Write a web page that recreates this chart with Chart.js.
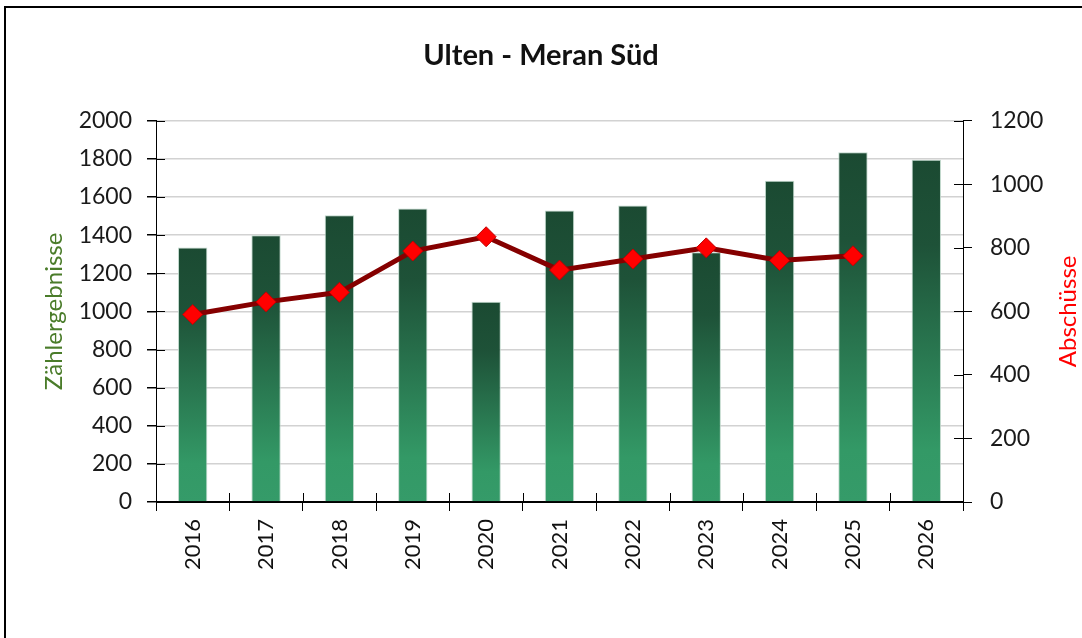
<!DOCTYPE html>
<html>
<head>
<meta charset="utf-8">
<script src="https://cdn.jsdelivr.net/npm/chart.js@4.4.1/dist/chart.umd.min.js"></script>
<style>
    html, body { margin: 0; padding: 0; background: #fff; }
    #wrap { position: relative; width: 1082px; height: 638px; overflow: hidden; }
    #frame { position: absolute; left: 4px; top: 6px; width: 1100px; height: 700px; border-top: 2px solid #000; border-left: 2px solid #000; }
    canvas { position: absolute; left: 0; top: 0; }
</style>
</head>
<body>
<div id="wrap">
    <div id="frame"></div>
    <canvas id="myChart" width="1082" height="638"></canvas>
</div>
<script>
const labels = ["2016", "2017", "2018", "2019", "2020", "2021", "2022", "2023", "2024", "2025", "2026"];
const zaehlergebnisse = [1335, 1400, 1505, 1540, 1050, 1530, 1555, 1310, 1685, 1835, 1795];
const abschuesse = [590, 630, 660, 790, 835, 730, 765, 800, 760, 775, null];

Chart.defaults.font.family = "Lato";
Chart.defaults.color = "#1a1a1a";

// each bar gets its own gradient, dark at the top, lighter green at the base
function barGradient(context) {
    const chart = context.chart;
    if (!chart.chartArea || context.raw == null) return "#2a7a52";
    const y = chart.scales.y;
    const top = y.getPixelForValue(context.raw);
    const base = y.getPixelForValue(0);
    const g = chart.ctx.createLinearGradient(0, top, 0, base);
    g.addColorStop(0, "#1b4a32");
    g.addColorStop(0.25, "#1e5238");
    g.addColorStop(0.85, "#339966");
    g.addColorStop(1, "#359b69");
    return g;
}

// ticks that cross the axes + right axis title (reads bottom to top)
const extras = {
    id: "extras",
    afterDraw(chart) {
        const ctx = chart.ctx;
        const { x, y, y1 } = chart.scales;
        ctx.save();
        ctx.strokeStyle = "#000";
        ctx.lineWidth = 1;
        ctx.beginPath();
        y.ticks.forEach(t => {
            const p = Math.round(y.getPixelForValue(t.value)) + 0.5;
            ctx.moveTo(y.right, p);
            ctx.lineTo(y.right + 9, p);
        });
        y1.ticks.forEach(t => {
            const p = Math.round(y1.getPixelForValue(t.value)) + 0.5;
            ctx.moveTo(y1.left - 9, p);
            ctx.lineTo(y1.left, p);
        });
        for (let i = 0; i <= labels.length; i++) {
            const p = Math.round(x.getPixelForValue(i - 0.5)) + 0.5;
            ctx.moveTo(p, x.top - 9);
            ctx.lineTo(p, x.top);
        }
        ctx.stroke();

        const area = chart.chartArea;
        ctx.translate(y1.right - 14, (area.top + area.bottom) / 2);
        ctx.rotate(-Math.PI / 2);
        ctx.textAlign = "center";
        ctx.textBaseline = "middle";
        ctx.fillStyle = "#ff0000";
        ctx.font = "24px Lato";
        ctx.fillText("Abschüsse", 0, 0);
        ctx.restore();
    }
};

const plain = v => String(v);

const data = {
    labels: labels,
    datasets: [
        {
            type: "line",
            label: "Abschüsse",
            data: abschuesse,
            yAxisID: "y1",
            order: 0,
            borderColor: "#850000",
            borderWidth: 5,
            tension: 0,
            pointStyle: "rectRot",
            pointRadius: 10,
            pointBackgroundColor: "#ff0000",
            pointBorderColor: "#c00000",
            pointBorderWidth: 1,
        },
        {
            type: "bar",
            label: "Zählergebnisse",
            data: zaehlergebnisse,
            yAxisID: "y",
            order: 1,
            backgroundColor: barGradient,
            borderColor: "rgba(185,212,198,0.9)",
            borderWidth: 1,
            barPercentage: 0.4,
            categoryPercentage: 1.0,
        },
    ],
};

const config = {
    type: "bar",
    data: data,
    plugins: [extras],
    options: {
        responsive: false,
        animation: false,
        layout: { padding: 0 },
        plugins: {
            legend: { display: false },
            tooltip: { enabled: false },
            title: {
                display: true,
                text: "Ulten - Meran Süd",
                color: "#111",
                font: { size: 29, weight: "bold" },
                padding: { top: 38, bottom: 48 },
            },
        },
        scales: {
            x: {
                grid: { drawOnChartArea: false, tickLength: 9, tickColor: "#000", offset: true },
                border: { color: "#000", width: 1 },
                ticks: { minRotation: 90, maxRotation: 90, padding: 8, font: { size: 22 }, color: "#111" },
                afterFit(scale) { scale.height = 136; },
            },
            y: {
                position: "left",
                min: 0,
                max: 2000,
                ticks: { stepSize: 200, padding: 15, font: { size: 23 }, callback: plain },
                grid: {
                    color: c => (c.tick && c.tick.value === 0 ? "#000" : "#d2d2d2"),
                    lineWidth: 1.5,
                    tickLength: 9,
                    tickColor: "#000",
                },
                border: { color: "#000", width: 1 },
                title: {
                    display: true,
                    text: "Zählergebnisse",
                    color: "#4a7c2a",
                    font: { size: 24 },
                    padding: { top: 40, bottom: 0 },
                },
                afterFit(scale) { scale.width = 156; },
            },
            y1: {
                position: "right",
                min: 0,
                max: 1200,
                ticks: { stepSize: 200, padding: 18, font: { size: 23 }, callback: plain },
                grid: { drawOnChartArea: false, tickLength: 9, tickColor: "#000" },
                border: { color: "#000", width: 1 },
                afterFit(scale) { scale.width = 119; },
            },
        },
    },
};

const myChart = new Chart(document.getElementById("myChart"), config);
</script>
</body>
</html>
